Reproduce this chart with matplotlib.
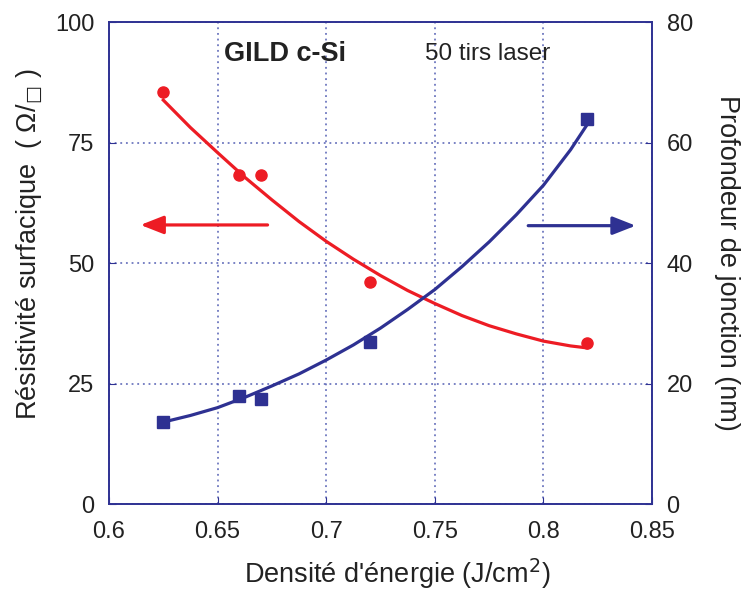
import numpy as np
import matplotlib.pyplot as plt

plt.rcParams['font.family'] = ['Liberation Sans', 'DejaVu Sans']

# measured points
energie = [0.625, 0.66, 0.67, 0.72, 0.82]
resistivite = [85.5, 68.3, 68.3, 46.0, 33.4]
profondeur = [13.6, 17.9, 17.4, 26.9, 63.9]

# fitted curves
x_fit_r = [0.625, 0.6375, 0.65, 0.6625, 0.675, 0.6875, 0.7, 0.7125, 0.725,
           0.7375, 0.75, 0.7625, 0.775, 0.7875, 0.8, 0.8125, 0.82]
y_fit_r = [83.8, 78.1, 72.9, 67.8, 63.1, 58.6, 54.5, 50.8, 47.4,
           44.3, 41.6, 39.1, 37.0, 35.3, 33.8, 32.8, 32.4]
x_fit_b = x_fit_r
y_fit_b = [13.6, 14.7, 16.0, 17.7, 19.6, 21.6, 23.9, 26.4, 29.2,
           32.3, 35.6, 39.4, 43.5, 48.0, 52.9, 58.8, 62.9]

red = '#ed1c24'
blue = '#2e3192'
grid_col = '#5560b4'
txt = '#222222'

fig = plt.figure(figsize=(7.45, 5.92), dpi=100)
ax = fig.add_axes([0.1463, 0.1486, 0.7289, 0.8142])
ax2 = ax.twinx()

ax.set_xlim(0.6, 0.85)
ax.set_ylim(0, 100)
ax2.set_ylim(0, 80)

ax.set_xticks([0.6, 0.65, 0.7, 0.75, 0.8, 0.85])
ax.set_xticklabels(['0.6', '0.65', '0.7', '0.75', '0.8', '0.85'])
ax.set_yticks([0, 25, 50, 75, 100])
ax2.set_yticks([0, 20, 40, 60, 80])

ax.grid(True, color=grid_col, linestyle=(0, (1.2, 2.5)), linewidth=1.1)

for a in (ax, ax2):
    for s in a.spines.values():
        s.set_color(blue)
        s.set_linewidth(1.2)
    a.tick_params(direction='in', length=5, color=blue, labelsize=17,
                  labelcolor=txt, pad=10.5)
ax.tick_params(axis='x', pad=12.5)

ax.plot(x_fit_r, y_fit_r, '-', color=red, lw=2.3, zorder=3)
ax.plot(energie, resistivite, 'o', color=red, ms=8, zorder=4)
ax2.plot(x_fit_b, y_fit_b, '-', color=blue, lw=2.3, zorder=3)
ax2.plot(energie, profondeur, 's', color=blue, ms=8.5, zorder=4)

# direction arrows
ax.annotate('', xy=(0.6145, 57.9), xytext=(0.673, 57.9),
            arrowprops=dict(arrowstyle='-|>,head_length=1.4,head_width=0.55',
                            color=red, lw=2.3, shrinkA=0, shrinkB=0))
ax2.annotate('', xy=(0.8425, 46.2), xytext=(0.793, 46.2),
             arrowprops=dict(arrowstyle='-|>,head_length=1.4,head_width=0.55',
                             color=blue, lw=2.3, shrinkA=0, shrinkB=0))

ax.text(0.653, 93.4, 'GILD c-Si', fontsize=19.5, fontweight='bold',
        color=txt, va='center', ha='left')
ax.text(0.7455, 93.4, '50 tirs laser', fontsize=17.5, color=txt,
        va='center', ha='left')

ax.set_xlabel(r"Densité d'énergie (J/cm$^2$)", fontsize=19.5, color=txt)
ax.xaxis.set_label_coords(0.53, -0.108)
ax.set_ylabel('Résistivité surfacique  ( Ω/$_{□}$ )', fontsize=19.5,
              color=txt)
ax.yaxis.set_label_coords(-0.12, 0.54)
ax2.set_ylabel('Profondeur de jonction (nm)', fontsize=19.5, color=txt,
               rotation=270, labelpad=34)

fig.savefig('out.png', dpi=100, facecolor='white')
